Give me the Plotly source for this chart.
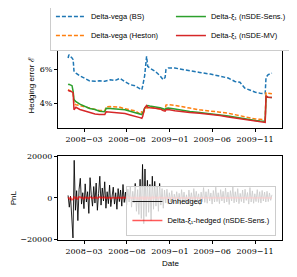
import pandas as pd
import plotly.graph_objects as go

# ---------------- data: hedging errors (%) ----------------
err_dates = ["2008-01-04", "2008-01-07", "2008-01-18", "2008-01-22", "2008-01-25", "2008-02-01",
             "2008-02-15", "2008-03-04", "2008-03-21", "2008-04-09", "2008-04-25", "2008-05-14",
             "2008-05-19", "2008-06-02", "2008-06-19", "2008-07-07", "2008-07-25", "2008-08-12",
             "2008-08-29", "2008-09-16", "2008-09-23", "2008-09-26", "2008-10-03", "2008-10-10",
             "2008-10-14", "2008-10-21", "2008-11-10", "2008-11-27", "2008-12-08", "2008-12-15",
             "2008-12-18", "2008-12-26", "2009-01-19", "2009-02-06", "2009-03-13", "2009-04-17",
             "2009-05-25", "2009-06-29", "2009-07-28", "2009-08-21", "2009-09-08", "2009-09-25",
             "2009-10-13", "2009-11-02", "2009-11-19", "2009-12-07", "2009-12-10", "2009-12-17",
             "2009-12-31"]

bs_err = [6.65, 6.84, 6.65, 6.55, 5.88, 5.76, 5.60, 5.47, 5.30, 5.28, 5.31, 5.28, 5.30, 5.37, 5.32,
          5.45, 5.25, 5.08, 5.02, 4.88, 4.78, 5.00, 5.60, 6.75, 6.16, 6.06, 5.86, 5.60, 5.37, 5.50,
          5.96, 6.06, 6.06, 6.00, 5.92, 5.80, 5.70, 5.57, 5.47, 5.27, 5.22, 4.88, 4.74, 4.63, 4.58,
          4.55, 5.50, 5.66, 5.76]
heston_err = [4.78, 4.75, 4.68, 4.62, 3.95, 3.90, 3.85, 3.78, 3.68, 3.62, 3.56, 3.55, 3.78, 3.79,
              3.78, 3.75, 3.66, 3.59, 3.55, 3.35, 3.50, 3.30, 3.60, 3.75, 3.70, 3.78, 3.72, 3.63,
              3.60, 3.58, 3.88, 3.90, 3.86, 3.82, 3.70, 3.60, 3.55, 3.46, 3.40, 3.32, 3.25, 3.16,
              3.10, 3.06, 3.04, 3.02, 4.60, 4.57, 4.55]
sens_err = [5.08, 5.10, 5.02, 4.69, 4.20, 4.08, 3.93, 3.82, 3.68, 3.62, 3.52, 3.49, 3.69, 3.68,
            3.66, 3.63, 3.60, 3.52, 3.43, 3.35, 3.32, 3.40, 3.70, 3.82, 3.85, 3.82, 3.78, 3.72,
            3.66, 3.62, 3.68, 3.70, 3.65, 3.59, 3.50, 3.44, 3.38, 3.30, 3.23, 3.16, 3.10, 3.05,
            3.00, 2.97, 2.94, 2.93, 4.38, 4.34, 4.32]
mv_err = [4.76, 4.72, 4.66, 4.60, 3.60, 3.75, 3.62, 3.52, 3.42, 3.36, 3.33, 3.33, 3.49, 3.47,
          3.45, 3.43, 3.38, 3.30, 3.24, 3.14, 3.10, 3.20, 3.70, 3.85, 3.76, 3.72, 3.69, 3.65,
          3.55, 3.52, 3.60, 3.62, 3.55, 3.50, 3.44, 3.40, 3.34, 3.26, 3.18, 3.12, 3.05, 3.00,
          2.96, 2.92, 2.87, 2.86, 4.42, 4.34, 4.32]

err_ticks = [4, 6]
err_ticktext = ["4%", "6%"]

# ---------------- data: PnL ----------------
pnl_start, pnl_end = "2008-01-04", "2009-12-31"
pnl_unhedged = [1200, -4500, 800, -9000, -19400, 18200, -6000, 3500, -11000, 4200,
                9500, -3000, 2500, -5200, 6800, -2000, 3000, -7500, 9800, 1500,
                -4000, 5500, -2500, 7200, -6000, 2200, 10500, -3500, 4800, -1500,
                7800, -5000, 3000, -2800, 6200, -4200, 1800, 5200, -3000, 2500,
                -5500, 4500, -1800, 3800, -4000, 6500, -2200, 2800, -3500, 4200,
                -2000, 5500, -4500, 3200, -2500, 7000, -6500, 4000, -8000, 9000,
                -10000, 16200, -12500, 14000, -9000, 8500, -7000, 6500, -11000, 10500,
                -5500, 8000, -4000, 5500, -6500, 7000, -3500, 4500, -5000, 3800,
                -2500, 4200, -3000, 2500, -2000, 3500, -2800, 1800, -1500, 3000,
                -2500, 2200, -3200, 4000, -1800, 2800, -2200, 1500, -3000, 3800,
                -1500, 2500, -2800, 4500, -2000, 3200, -1200, 2000, -3500, 2800,
                -1800, 5000, -2200, 3000, -2600, 4200, -1500, 2400, -3000, 3600,
                -2000, 5200, -1800, 2500, -2800, 4000, -1500, 3200, -2500, 4800,
                -2000, 2800, -3200, 3500, -1500, 5500, -2400, 3000, -2000, 4500,
                -2800, 2200, -1800, 3800, -2500, 4200, -1200, 2600, -3000, 5000,
                -2000, 3400, -2600, 2000, -1800, 4000, -2200, 3000, -2500, 3600,
                -1500, 2800, -2000, 3200, -1800, 2400, -1200, 1500]
pnl_hedged = [300, -500, 200, -900, -700, 600, -400, 300, -800, 500,
              400, -200, 300, -500, 400, -100, 200, -400, 500, 100,
              -300, 300, -200, 400, -300, 100, 500, -200, 300, -100,
              400, -300, 200, -200, 300, -300, 100, 300, -200, 200,
              -300, 300, -100, 200, -300, 400, -100, 200, -200, 300,
              -100, 300, -300, 200, -200, 400, -400, 200, -500, 500,
              -600, 700, -900, 600, -500, 400, -400, 300, -600, 500,
              -300, 400, -200, 300, -300, 400, -200, 200, -300, 200,
              -100, 200, -200, 100, -100, 200, -200, 100, -100, 200,
              -100, 100, -200, 200, -100, 100, -100, 100, -200, 200,
              -100, 100, -200, 200, -100, 200, -100, 100, -200, 100,
              -100, 300, -100, 200, -100, 200, -100, 100, -200, 200,
              -100, 300, -100, 100, -200, 200, -100, 200, -100, 300,
              -100, 100, -200, 200, -100, 300, -100, 200, -100, 200,
              -200, 100, -100, 200, -100, 200, -100, 100, -200, 300,
              -100, 200, -100, 100, -100, 200, -100, 200, -100, 200,
              -100, 100, -100, 200, -100, 100, -100, 100]
pnl_ticks = [-20000, 0, 20000]
pnl_ticktext = ["−20000", "0", "20000"]

date_ticks = ["2008-03-01", "2008-08-01", "2009-01-01", "2009-06-01", "2009-11-01"]
date_ticktext = ["2008−03", "2008−08", "2009−01", "2009−06", "2009−11"]
x_range = ["2007-11-29", "2010-02-05"]

pnl_dates = pd.date_range(pnl_start, pnl_end, periods=len(pnl_unhedged))

# ---------------- figure ----------------
SANS = "Liberation Sans"
SERIF = "DejaVu Serif"
fig = go.Figure()

fig.add_trace(go.Scatter(x=err_dates, y=bs_err, mode="lines", name="Delta-vega (BS)",
                         line=dict(color="#1f77b4", width=1.5, dash="4px,2px"),
                         legend="legend", legendrank=1, xaxis="x", yaxis="y"))
fig.add_trace(go.Scatter(x=err_dates, y=heston_err, mode="lines", name="Delta-vega (Heston)",
                         line=dict(color="#ff7f0e", width=1.5, dash="4px,2px"),
                         legend="legend", legendrank=3, xaxis="x", yaxis="y"))
fig.add_trace(go.Scatter(x=err_dates, y=sens_err, mode="lines", name="Delta-ξ₁ (nSDE-Sens.)",
                         line=dict(color="#2ca02c", width=1.5),
                         legend="legend", legendrank=2, xaxis="x", yaxis="y"))
fig.add_trace(go.Scatter(x=err_dates, y=mv_err, mode="lines", name="Delta-ξ₁ (nSDE-MV)",
                         line=dict(color="#d62728", width=1.5),
                         legend="legend", legendrank=4, xaxis="x", yaxis="y"))

fig.add_trace(go.Scatter(x=pnl_dates, y=pnl_unhedged, mode="lines", name="Unhedged",
                         line=dict(color="rgba(0,0,0,0.85)", width=1),
                         legend="legend2", xaxis="x2", yaxis="y2"))
fig.add_trace(go.Scatter(x=pnl_dates, y=pnl_hedged, mode="lines",
                         name="Delta-ξ₁-hedged (nSDE-Sens.)",
                         line=dict(color="rgba(255,0,0,0.65)", width=1.5),
                         legend="legend2", xaxis="x2", yaxis="y2"))

axis_common = dict(showline=True, linecolor="black", linewidth=1, mirror=True,
                   ticks="outside", ticklen=3, tickwidth=1, tickcolor="black",
                   showgrid=False, zeroline=False, tickangle=0, automargin=False,
                   tickfont=dict(family=SERIF, size=8, color="black"))

# the page body adds an 8 px offset, so the figure is 8 px smaller and shifted
fig.update_layout(
    width=289, height=269,
    margin=dict(l=50, r=15, t=35, b=37, autoexpand=False),
    paper_bgcolor="white", plot_bgcolor="white",
    font=dict(family=SANS, size=8, color="black"),
    xaxis=dict(domain=[0, 1], anchor="y", range=x_range, tickvals=date_ticks,
               ticktext=date_ticktext, **axis_common),
    yaxis=dict(domain=[0.5685, 1], anchor="x", range=[2.53, 7.53], tickvals=err_ticks,
               ticktext=err_ticktext, **axis_common),
    xaxis2=dict(domain=[0, 1], anchor="y2", range=x_range, tickvals=date_ticks,
                ticktext=date_ticktext, **axis_common),
    yaxis2=dict(domain=[0, 0.4264], anchor="x2", range=[-20400, 20300], tickvals=pnl_ticks,
                ticktext=pnl_ticktext, **axis_common),
    legend=dict(orientation="h", x=-0.036, y=1.213, xanchor="left", yanchor="top",
                bgcolor="white", bordercolor="#cccccc", borderwidth=1,
                entrywidth=75, entrywidthmode="pixels", traceorder="normal",
                font=dict(family=SANS, size=7.5), itemwidth=30, tracegroupgap=0),
    legend2=dict(x=0.975, y=0.0203, xanchor="right", yanchor="bottom",
                 bgcolor="rgba(255,255,255,0.8)", bordercolor="#cccccc", borderwidth=1,
                 font=dict(family=SANS, size=7.5), itemwidth=30, tracegroupgap=0),
    annotations=[
        dict(text="Hedging error ℰ", textangle=-90, x=-0.116, y=0.784, xref="paper",
             yref="paper", showarrow=False, xanchor="center", yanchor="middle",
             font=dict(family=SANS, size=8)),
        dict(text="PnL", textangle=-90, x=-0.2, y=0.213, xref="paper", yref="paper",
             showarrow=False, xanchor="center", yanchor="middle",
             font=dict(family=SANS, size=8)),
        dict(text="Date", x=0.5, y=-0.117, xref="paper", yref="paper", showarrow=False,
             xanchor="center", yanchor="middle", font=dict(family=SANS, size=8)),
    ],
)

fig.write_html("out.html")
